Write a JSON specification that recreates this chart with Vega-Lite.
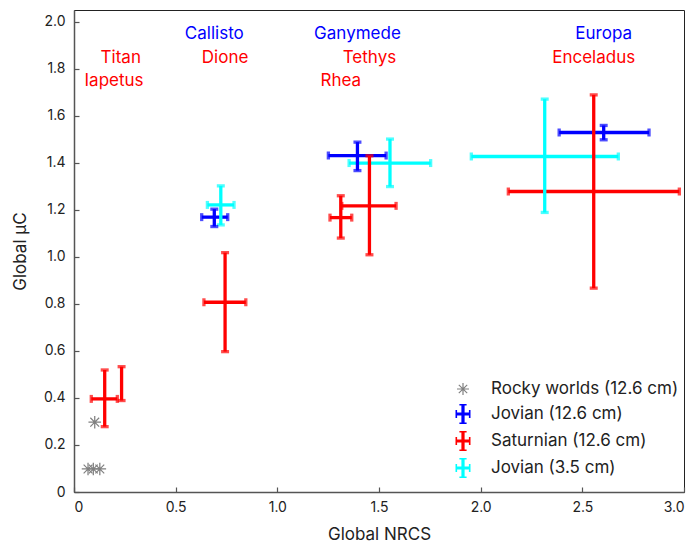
{
  "$schema": "https://vega.github.io/schema/vega-lite/v6.json",
  "width": 610,
  "height": 482,
  "autosize": {"type": "none"},
  "padding": {"left": 74, "top": 10, "right": 14, "bottom": 51},
  "config": {
    "font": "Inter",
    "view": {"stroke": "#222", "strokeWidth": 1},
    "axis": {
      "grid": false,
      "domainColor": "#555",
      "domainWidth": 1.5,
      "tickColor": "#555",
      "tickWidth": 1.2,
      "labelFont": "Inter",
      "labelFontSize": 14,
      "labelColor": "#222",
      "titleFont": "Inter",
      "titleFontSize": 17,
      "titleFontWeight": "normal",
      "titleColor": "#222"
    },
    "legend": {"title": null, "orient": "none", "legendX": 379, "legendY": 369, "padding": 0, "symbolSize": 400, "symbolStrokeWidth": 0, "symbolOpacity": 1, "labelFontSize": 17, "labelFont": "Inter", "labelColor": "#222", "labelOffset": 18, "rowPadding": 7, "labelLimit": 400}
  },
  "datasets": {
    "bars": [
      {"group": "Jovian (3.5 cm)", "moon": "Callisto", "x": 0.722, "xlo": 0.656, "xhi": 0.787, "y": 1.221, "ylo": 1.136, "yhi": 1.302},
      {"group": "Jovian (3.5 cm)", "moon": "Ganymede", "x": 1.554, "xlo": 1.353, "xhi": 1.754, "y": 1.399, "ylo": 1.299, "yhi": 1.501},
      {"group": "Jovian (3.5 cm)", "moon": "Europa", "x": 2.315, "xlo": 1.954, "xhi": 2.677, "y": 1.427, "ylo": 1.189, "yhi": 1.671},
      {"group": "Saturnian (12.6 cm)", "moon": "Titan", "x": 0.151, "xlo": 0.085, "xhi": 0.213, "y": 0.396, "ylo": 0.278, "yhi": 0.519},
      {"group": "Saturnian (12.6 cm)", "moon": "Iapetus", "x": 0.234, "y": 0.40, "ylo": 0.389, "yhi": 0.533},
      {"group": "Saturnian (12.6 cm)", "moon": "Dione", "x": 0.743, "xlo": 0.639, "xhi": 0.845, "y": 0.807, "ylo": 0.597, "yhi": 1.018},
      {"group": "Saturnian (12.6 cm)", "moon": "Rhea", "x": 1.312, "xlo": 1.259, "xhi": 1.366, "y": 1.167, "ylo": 1.08, "yhi": 1.26},
      {"group": "Saturnian (12.6 cm)", "moon": "Tethys", "x": 1.453, "xlo": 1.317, "xhi": 1.584, "y": 1.217, "ylo": 1.009, "yhi": 1.43},
      {"group": "Saturnian (12.6 cm)", "moon": "Enceladus", "x": 2.556, "xlo": 2.136, "xhi": 2.977, "y": 1.278, "ylo": 0.867, "yhi": 1.689},
      {"group": "Jovian (12.6 cm)", "moon": "Callisto", "x": 0.69, "xlo": 0.628, "xhi": 0.756, "y": 1.169, "ylo": 1.129, "yhi": 1.203},
      {"group": "Jovian (12.6 cm)", "moon": "Ganymede", "x": 1.394, "xlo": 1.251, "xhi": 1.535, "y": 1.431, "ylo": 1.367, "yhi": 1.488},
      {"group": "Jovian (12.6 cm)", "moon": "Europa", "x": 2.605, "xlo": 2.386, "xhi": 2.828, "y": 1.529, "ylo": 1.498, "yhi": 1.559}
    ],
    "rocky": [
      {"group": "Rocky worlds (12.6 cm)", "x": 0.102, "y": 0.297},
      {"group": "Rocky worlds (12.6 cm)", "x": 0.069, "y": 0.098},
      {"group": "Rocky worlds (12.6 cm)", "x": 0.095, "y": 0.098},
      {"group": "Rocky worlds (12.6 cm)", "x": 0.127, "y": 0.098}
    ],
    "labels": [
      {"group": "Saturnian (12.6 cm)", "name": "Titan", "x": 0.23, "y": 1.847},
      {"group": "Saturnian (12.6 cm)", "name": "Iapetus", "x": 0.197, "y": 1.749},
      {"group": "Jovian (12.6 cm)", "name": "Callisto", "x": 0.69, "y": 1.949},
      {"group": "Saturnian (12.6 cm)", "name": "Dione", "x": 0.743, "y": 1.847},
      {"group": "Jovian (12.6 cm)", "name": "Ganymede", "x": 1.394, "y": 1.949},
      {"group": "Saturnian (12.6 cm)", "name": "Tethys", "x": 1.453, "y": 1.847},
      {"group": "Saturnian (12.6 cm)", "name": "Rhea", "x": 1.312, "y": 1.749},
      {"group": "Jovian (12.6 cm)", "name": "Europa", "x": 2.605, "y": 1.949},
      {"group": "Saturnian (12.6 cm)", "name": "Enceladus", "x": 2.556, "y": 1.847}
    ]
  },
  "layer": [
    {
      "data": {"name": "bars"},
      "mark": {"type": "rule", "strokeWidth": 3.3},
      "encoding": {
        "x": {"field": "xlo", "type": "quantitative", "scale": {"domain": [0, 3], "nice": false, "zero": false},
          "axis": {"title": "Global NRCS", "values": [0, 0.5, 1, 1.5, 2, 2.5, 3], "labelExpr": "datum.value == 0 ? '0' : format(datum.value, '.1f')", "tickSize": -5, "labelPadding": 13, "titlePadding": 12}},
        "x2": {"field": "xhi"},
        "y": {"field": "y", "type": "quantitative", "scale": {"domain": [0, 2.05], "nice": false, "zero": false},
          "axis": {"title": "Global μC", "values": [0, 0.2, 0.4, 0.6, 0.8, 1, 1.2, 1.4, 1.6, 1.8, 2], "labelExpr": "datum.value == 0 ? '0' : format(datum.value, '.1f')", "tickSize": -5, "labelPadding": 14, "titlePadding": 14}},
        "color": {"field": "group", "type": "nominal"}
      }
    },
    {
      "data": {"name": "bars"},
      "mark": {"type": "rule", "strokeWidth": 3.3},
      "encoding": {
        "x": {"field": "x", "type": "quantitative"},
        "y": {"field": "ylo", "type": "quantitative"},
        "y2": {"field": "yhi"},
        "color": {"field": "group", "type": "nominal"}
      }
    },
    {
      "data": {"name": "bars"},
      "transform": [{"filter": "isValid(datum.xlo)"}, {"fold": ["xlo", "xhi"], "as": ["end", "xv"]}],
      "mark": {"type": "tick", "orient": "vertical", "size": 8, "thickness": 3.3},
      "encoding": {
        "x": {"field": "xv", "type": "quantitative"},
        "y": {"field": "y", "type": "quantitative"},
        "color": {"field": "group", "type": "nominal"}
      }
    },
    {
      "data": {"name": "bars"},
      "transform": [{"fold": ["ylo", "yhi"], "as": ["end", "yv"]}],
      "mark": {"type": "tick", "orient": "horizontal", "size": 8, "thickness": 3.3},
      "encoding": {
        "x": {"field": "x", "type": "quantitative"},
        "y": {"field": "yv", "type": "quantitative"},
        "color": {"field": "group", "type": "nominal"}
      }
    },
    {
      "data": {"name": "rocky"},
      "mark": {"type": "point", "filled": true, "size": 440, "strokeWidth": 0, "opacity": 1},
      "encoding": {
        "x": {"field": "x", "type": "quantitative"},
        "y": {"field": "y", "type": "quantitative"},
        "color": {"field": "group", "type": "nominal",
          "scale": {"domain": ["Rocky worlds (12.6 cm)", "Jovian (12.6 cm)", "Saturnian (12.6 cm)", "Jovian (3.5 cm)"], "range": ["#808080", "#0000ff", "#ff0000", "#00ffff"]}},
        "shape": {"field": "group", "type": "nominal",
          "scale": {"domain": ["Rocky worlds (12.6 cm)", "Jovian (12.6 cm)", "Saturnian (12.6 cm)", "Jovian (3.5 cm)"],
            "range": [
              "M-0.6,-0.06H0.6V0.06H-0.6Z M-0.06,-0.6H0.06V0.6H-0.06Z M-0.38,-0.46L0.46,0.38L0.38,0.46L-0.46,-0.38Z M-0.46,0.38L0.38,-0.46L0.46,-0.38L-0.38,0.46Z",
              "M-0.75,-0.16H0.75V0.16H-0.75Z M-0.75,-0.4H-0.59V0.4H-0.75Z M0.59,-0.4H0.75V0.4H0.59Z M-0.16,-1H0.16V1H-0.16Z M-0.36,-1H0.36V-0.84H-0.36Z M-0.36,0.84H0.36V1H-0.36Z",
              "M-0.75,-0.16H0.75V0.16H-0.75Z M-0.75,-0.4H-0.59V0.4H-0.75Z M0.59,-0.4H0.75V0.4H0.59Z M-0.16,-1H0.16V1H-0.16Z M-0.36,-1H0.36V-0.84H-0.36Z M-0.36,0.84H0.36V1H-0.36Z",
              "M-0.75,-0.16H0.75V0.16H-0.75Z M-0.75,-0.4H-0.59V0.4H-0.75Z M0.59,-0.4H0.75V0.4H0.59Z M-0.16,-1H0.16V1H-0.16Z M-0.36,-1H0.36V-0.84H-0.36Z M-0.36,0.84H0.36V1H-0.36Z"
            ]}}
      }
    },
    {
      "data": {"name": "labels"},
      "mark": {"type": "text", "fontSize": 17, "font": "Inter", "align": "center", "baseline": "middle"},
      "encoding": {
        "x": {"field": "x", "type": "quantitative"},
        "y": {"field": "y", "type": "quantitative"},
        "text": {"field": "name"},
        "color": {"field": "group", "type": "nominal"}
      }
    }
  ]
}
